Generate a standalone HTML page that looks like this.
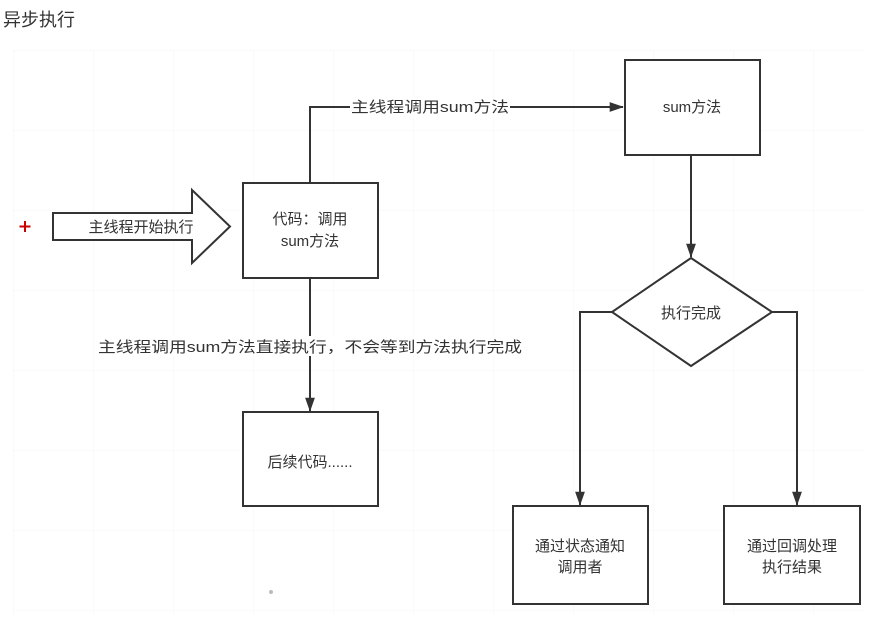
<!DOCTYPE html>
<html><head><meta charset="utf-8"><style>
body{margin:0;width:878px;height:615px;overflow:hidden;background:#fff;}
svg text{font-family:"Liberation Sans","Noto Sans CJK SC",sans-serif;fill:#333;}
</style></head><body>
<svg width="878" height="615" xmlns="http://www.w3.org/2000/svg">
<defs>
<pattern id="g" width="80" height="80" patternUnits="userSpaceOnUse" x="13" y="50">
<path d="M0 0H80M0 0V80" stroke="#f4f4f4" stroke-width="1" fill="none"/>
</pattern>
<marker id="a" markerWidth="14" markerHeight="20" refX="19" refY="7" orient="auto" markerUnits="userSpaceOnUse" viewBox="0 0 20 14">
<path d="M0 0L20 7L0 14Z" fill="#333"/>
</marker>
</defs>
<rect x="13" y="50" width="850" height="565" fill="url(#g)"/>
<text x="3" y="26" font-size="18">异步执行</text>
<g stroke="#333" stroke-width="2" fill="#fff">
<path d="M25 221V232M19.5 226.5H30.5" stroke="#c00"/>
<path d="M53 213H192V190L230 226.5L192 263V240H53Z"/>
<rect x="243" y="183" width="135" height="95"/>
<rect x="625" y="60" width="135" height="95"/>
<rect x="243" y="412" width="135" height="94"/>
<path d="M691 258L772 312L691 366L612 312Z"/>
<rect x="513" y="506" width="135" height="98"/>
<rect x="724" y="506" width="136" height="98"/>
<path d="M310 183V107H623" fill="none" marker-end="url(#a)"/>
<path d="M691 155V257" fill="none" marker-end="url(#a)"/>
<path d="M612 312H580V505" fill="none" marker-end="url(#a)"/>
<path d="M772 312H797V505" fill="none" marker-end="url(#a)"/>
<path d="M310 278V411" fill="none" marker-end="url(#a)"/>
</g>
<rect x="350" y="97" width="160" height="20" fill="#fff"/>
<rect x="97" y="336" width="426" height="20" fill="#fff"/>
<g font-size="15" text-anchor="middle">
<text x="430" y="112" textLength="158" lengthAdjust="spacingAndGlyphs">主线程调用sum方法</text>
<text x="310" y="352" textLength="424" lengthAdjust="spacingAndGlyphs">主线程调用sum方法直接执行，不会等到方法执行完成</text>
<text x="141" y="232">主线程开始执行</text>
<text x="310" y="224">代码：调用</text>
<text x="310" y="246">sum方法</text>
<text x="692" y="112">sum方法</text>
<text x="310" y="467">后续代码......</text>
<text x="691" y="318">执行完成</text>
<text x="580" y="551">通过状态通知</text>
<text x="580" y="572">调用者</text>
<text x="792" y="551">通过回调处理</text>
<text x="792" y="572">执行结果</text>
</g>
<circle cx="271" cy="592" r="2" fill="#bbb"/>
</svg>
</body></html>
